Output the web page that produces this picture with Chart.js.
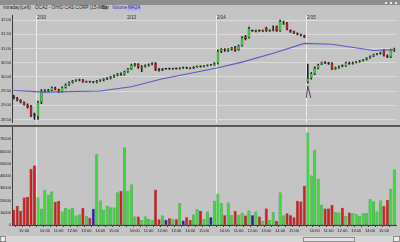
<!DOCTYPE html>
<html><head><meta charset="utf-8">
<script src="https://cdn.jsdelivr.net/npm/chart.js@4.4.0/dist/chart.umd.min.js"></script>
<style>
html,body{margin:0;padding:0;width:400px;height:242px;overflow:hidden;background:#c4c4c4;font-family:"Liberation Sans",Arial,sans-serif;}
.abs{position:absolute;}
#titlebar{left:0;top:0;width:400px;height:5px;background:#8e8e8e;}
.hdr{top:5px;font-size:4.6px;line-height:6px;color:#202020;white-space:nowrap;}
#sep{left:0;top:125px;width:400px;height:2px;background:#585858;}
#scroll{left:0;top:236px;width:400px;height:6px;background:#d6d6d6;}
.btn{background:#ececec;border:0.5px solid #8a8a8a;box-sizing:border-box;}
canvas{position:absolute;left:0;}
</style></head>
<body>
<div id="titlebar" class="abs"></div>
<div class="abs btn" style="left:384px;top:0.5px;width:4px;height:4px"></div>
<div class="abs btn" style="left:389px;top:0.5px;width:4px;height:4px"></div>
<div class="abs btn" style="left:394px;top:0.5px;width:4px;height:4px"></div>
<div class="abs hdr" style="left:3px">Intraday</div>
<div class="abs hdr" style="left:20px">(Left)</div>
<div class="abs hdr" style="left:35px">OCA2 - OHIO CAS CORP (15-Min)</div>
<div class="abs hdr" style="left:102px">Bar</div>
<div class="abs hdr" style="left:112px;color:#2a2aa8">Volume</div>
<div class="abs hdr" style="left:127px;color:#2a2aa8;background:#b4b4e2;padding:0 1px">MA24</div>
<canvas id="price" width="400" height="114" style="top:12px"></canvas>
<canvas id="vol" width="400" height="109" style="top:127px"></canvas>
<div id="sep" class="abs"></div>
<div id="scroll" class="abs"></div>
<div class="abs btn" style="left:0;top:236px;width:6px;height:6px"></div>
<div class="abs btn" style="left:303px;top:236.5px;width:52px;height:5px;background:#e2e2e2"></div>
<div class="abs btn" style="left:393px;top:236px;width:7px;height:6px"></div>
<script>
// ---- data ----
const dayDates = ['2/9','2/10','2/13','2/14','2/15'];
const dayStartTimes = ['14:15','9:30','9:30','9:30','9:30'];
const dayBarCounts = [7,26,26,26,26];
const dateMarks = ['2/10','2/13','2/14','2/15'];
const dayLineDates = ['2/10','2/14','2/15'];
const timeTickLabels = ['10:00','11:00','12:00','13:00','14:00','15:00'];
const priceTicks = [28.5,29,29.5,30,30.5,31,31.5,32];
const volumeTicks = [0,10000,20000,30000,40000,50000,60000,70000];

const open = [
29.32,29.25,29.18,29.10,29.02,28.97,28.68,
28.60,29.10,29.48,29.50,29.52,29.62,29.56,29.48,29.62,29.72,29.80,29.86,29.88,29.90,29.82,29.84,29.81,29.81,29.85,29.88,29.92,29.95,30.00,30.05,30.12,30.08,
30.18,30.28,30.42,30.45,30.30,30.36,30.40,30.44,30.48,30.28,30.24,30.28,30.30,30.27,30.31,30.28,30.32,30.33,30.31,30.30,30.34,30.38,30.36,30.39,30.41,30.41,
30.48,30.90,30.97,30.93,30.96,31.05,30.95,31.10,31.42,31.38,31.62,31.60,31.64,31.60,31.72,31.62,31.64,31.78,31.62,31.88,31.90,31.65,31.60,31.54,31.50,31.46,
29.82,29.95,30.10,30.30,30.43,30.52,30.50,30.47,30.27,30.32,30.40,30.37,30.50,30.46,30.50,30.53,30.56,30.60,30.66,30.72,30.78,30.81,30.95,30.75,30.70,30.93];
const high = [
29.35,29.28,29.20,29.12,29.05,29.00,28.72,
29.15,29.55,29.55,29.56,29.65,29.64,29.57,29.65,29.75,29.82,29.88,29.90,29.92,29.91,29.85,29.85,29.83,29.88,29.90,29.94,29.97,30.02,30.07,30.12,30.14,30.20,
30.30,30.45,30.48,30.47,30.40,30.42,30.46,30.50,30.50,30.30,30.30,30.30,30.31,30.31,30.32,30.33,30.34,30.34,30.32,30.36,30.39,30.39,30.40,30.42,30.43,30.50,
30.95,31.00,31.00,31.00,31.04,31.08,31.12,31.42,31.46,31.75,31.65,31.65,31.66,31.66,31.75,31.66,31.80,31.80,32.00,31.97,31.92,31.66,31.61,31.55,31.51,31.47,
30.45,30.15,30.35,30.45,30.52,30.54,30.51,30.50,30.34,30.39,30.42,30.52,30.52,30.52,30.55,30.58,30.62,30.68,30.74,30.80,30.83,30.87,30.97,30.78,30.98,31.01];
const low = [
29.22,29.15,29.08,29.00,28.90,28.60,28.50,
28.50,29.05,29.45,29.47,29.50,29.54,29.44,29.46,29.60,29.70,29.78,29.84,29.86,29.80,29.80,29.80,29.79,29.79,29.84,29.86,29.90,29.93,29.98,30.03,30.05,30.06,
30.16,30.26,30.38,30.30,30.18,30.34,30.38,30.42,30.22,30.20,30.22,30.26,30.26,30.26,30.27,30.27,30.30,30.29,30.28,30.29,30.33,30.34,30.35,30.38,30.40,30.40,
30.45,30.85,30.90,30.90,30.94,30.90,30.93,31.08,31.30,31.36,31.60,31.58,31.60,31.59,31.60,31.60,31.62,31.60,31.60,31.85,31.65,31.57,31.52,31.48,31.44,31.38,
29.78,29.92,30.08,30.28,30.43,30.46,30.44,30.25,30.26,30.30,30.35,30.36,30.44,30.45,30.49,30.52,30.55,30.59,30.65,30.71,30.77,30.80,30.73,30.68,30.68,30.90];
const close = [
29.25,29.18,29.10,29.02,28.93,28.65,28.62,
29.10,29.50,29.52,29.54,29.62,29.56,29.47,29.62,29.72,29.80,29.86,29.88,29.90,29.83,29.84,29.81,29.81,29.86,29.89,29.92,29.95,30.00,30.05,30.10,30.08,30.18,
30.28,30.42,30.45,30.32,30.36,30.40,30.44,30.48,30.25,30.22,30.28,30.28,30.27,30.30,30.28,30.32,30.32,30.30,30.29,30.35,30.38,30.36,30.39,30.41,30.41,30.48,
30.90,30.97,30.93,30.98,31.02,30.92,31.10,31.38,31.33,31.70,31.62,31.63,31.62,31.64,31.62,31.65,31.68,31.62,31.95,31.92,31.68,31.60,31.54,31.50,31.46,31.40,
29.95,30.12,30.30,30.42,30.50,30.48,30.46,30.27,30.32,30.37,30.37,30.50,30.46,30.50,30.53,30.56,30.60,30.66,30.72,30.78,30.81,30.85,30.75,30.70,30.95,30.99];
const volume = [
12400,15600,11500,22500,22800,45900,48600,
22500,13200,28800,24700,27400,18900,19500,11000,14000,12900,14000,7700,8500,14000,7100,6000,13200,57700,20000,12400,15600,14300,14300,26600,28000,63200,
28000,33000,6900,6900,4100,6900,5000,4100,28800,4700,7700,4100,5500,4700,4700,17800,3600,6300,4100,8500,12900,11500,5000,11000,6300,19800,
25500,17800,8000,18400,8000,11500,8000,9900,7700,11800,8000,11000,6900,3300,13500,4100,10400,3300,26600,7700,9600,8000,6300,19800,19200,32100,
75500,40400,61000,37600,16500,13500,13500,16500,10400,10200,14000,7400,10200,9600,8800,7400,9600,9600,21100,19200,11000,20000,15600,20600,29400,45300];
// moving average read at a few bars (others left empty, the line joins them)
const maIndex = [0,9,25,34,43,53,59,66,75,84,92,104,110];
const maValue = [29.52,29.46,29.50,29.65,29.93,30.17,30.32,30.52,30.83,31.18,31.15,30.93,30.96];

// ---- build categories ----
const labels=[], dateOf=[], timeOf=[];
dayDates.forEach((d,k)=>{
  const [h0,m0]=dayStartTimes[k].split(':').map(Number);
  for(let j=0;j<dayBarCounts[k];j++){
    const t=h0*60+m0+15*j;
    const ts=Math.floor(t/60)+':'+String(t%60).padStart(2,'0');
    labels.push(d+' '+ts); dateOf.push(d); timeOf.push(ts);
  }
});
const firstIdx = d => dateOf.indexOf(d);
const dayLineIdx = dayLineDates.map(firstIdx);
const ma = labels.map(()=>null); maIndex.forEach((i,k)=>ma[i]=maValue[k]);
const dir = open.map((o,i)=> close[i]>o?1:(close[i]<o?-1:0));
const bodyFill = dir.map(d=> d>0?'#3cd63c':(d<0?'#c81c1c':'#2a2a40'));
const bodyEdge = dir.map(d=> d>0?'#147014':(d<0?'#6a0c0c':'#202030'));
const volFill = dir.map(d=> d>0?'#3ad83a':(d<0?'#cc1e1e':'#1c1cb0'));
const volEdge = dir.map(d=> d>0?'#157a15':(d<0?'#7a0e0e':'#0a0a60'));

Chart.defaults.font.family='"Liberation Sans", Arial, sans-serif';
Chart.defaults.font.size=4;
Chart.defaults.color='#1a1a1a';
Chart.defaults.animation=false;
Chart.defaults.plugins.legend.display=false;
Chart.defaults.plugins.tooltip.enabled=false;

const dayGrid = ctx => (ctx.type==='tick' && dayLineIdx.includes(ctx.index)) ? '#ededed' : 'rgba(0,0,0,0)';

const pricePlugin = {
  id:'priceExtras',
  afterDatasetsDraw(ch){
    const c=ch.ctx, x=ch.scales.x, y=ch.scales.y, bw=x.getPixelForValue(1)-x.getPixelForValue(0);
    c.save();
    c.fillStyle='#1e1e1e'; c.font='4.5px "Liberation Sans", Arial'; c.textBaseline='top';
    dateMarks.forEach(d=>{ const px=x.getPixelForValue(firstIdx(d))-bw/2+1; c.fillText(d,px,ch.chartArea.top+0.5); });
    // hand-drawn mark under the 2/15 opening bar
    const i0=firstIdx('2/15'); const cx=x.getPixelForValue(i0);
    c.strokeStyle='#111'; c.lineWidth=0.7; c.beginPath();
    c.moveTo(cx-1.5,y.getPixelForValue(29.26)); c.lineTo(cx,y.getPixelForValue(29.68));
    c.lineTo(cx+3,y.getPixelForValue(29.26)); c.stroke();
    c.restore();
  }
};

// volume axis labels drawn from the y scale
const volLabels = {
  id:'volLabels',
  afterDraw(ch){
    const c=ch.ctx, y=ch.scales.y;
    c.save(); c.fillStyle='#1a1a1a'; c.font='4px "Liberation Sans", Arial';
    c.textAlign='right'; c.textBaseline='middle';
    volumeTicks.forEach(v=>{ c.fillText(String(v), ch.chartArea.left-1, y.getPixelForValue(v)); });
    c.restore();
  }
};

new Chart(document.getElementById('price'),{
  type:'bar',
  data:{labels, datasets:[
    {type:'line', data:ma, spanGaps:true, borderColor:'#5a5ac4', borderWidth:1.1, pointRadius:0, order:0},
    {data:labels.map((_,i)=>[low[i],high[i]]), backgroundColor:'#1a1a1a', barThickness:0.9, grouped:false, order:2},
    {data:labels.map((_,i)=>[open[i],close[i]]), backgroundColor:bodyFill, borderColor:bodyEdge, borderWidth:0.5, borderSkipped:false,
     barPercentage:0.8, categoryPercentage:1, minBarLength:1, grouped:false, order:1}
  ]},
  options:{responsive:false, devicePixelRatio:1,
    layout:{padding:{left:0,right:4,top:0,bottom:0}, autoPadding:false},
    scales:{
      x:{display:true, offset:true, ticks:{display:false}, border:{display:false},
         grid:{offset:true, color:dayGrid, lineWidth:1, drawTicks:false}, afterFit:s=>{s.height=0;}},
      y:{min:28.387, max:32.166, afterBuildTicks:s=>{s.ticks=priceTicks.map(v=>({value:v}));},
         ticks:{callback:v=>Number(v).toFixed(2), padding:1, font:{size:4}},
         grid:{color:'#dadada', drawTicks:false}, border:{display:true,color:'#3a3a3a',width:1},
         afterFit:s=>{s.width=12;}}
    }},
  plugins:[pricePlugin]
});

new Chart(document.getElementById('vol'),{
  type:'bar',
  data:{labels, datasets:[
    {data:volume, backgroundColor:volFill, borderColor:volEdge, borderWidth:0.5, borderSkipped:false, barPercentage:0.86, categoryPercentage:1}
  ]},
  options:{responsive:false, devicePixelRatio:1,
    layout:{padding:{left:0,right:4,top:0,bottom:0}, autoPadding:false},
    scales:{
      x:{offset:true, ticks:{autoSkip:false, maxRotation:0, padding:1, font:{size:4},
           callback:(v,i)=> timeTickLabels.includes(timeOf[i]) ? timeOf[i] : ''},
         grid:{offset:true, color:dayGrid, tickLength:2,
           tickColor:ctx=> (timeOf[ctx.index]||'').match(/:(00|30)$/) ? '#444' : 'rgba(0,0,0,0)'},
         border:{display:true,color:'#3a3a3a',width:1}, afterFit:s=>{s.height=11;}},
      y:{min:0, max:80000, afterBuildTicks:s=>{s.ticks=volumeTicks.map(v=>({value:v}));},
         ticks:{display:false},
         grid:{display:false, drawTicks:false}, border:{display:true,color:'#3a3a3a',width:1},
         afterFit:s=>{s.width=12;}}
    }},
  plugins:[volLabels]
});
</script>
</body></html>
